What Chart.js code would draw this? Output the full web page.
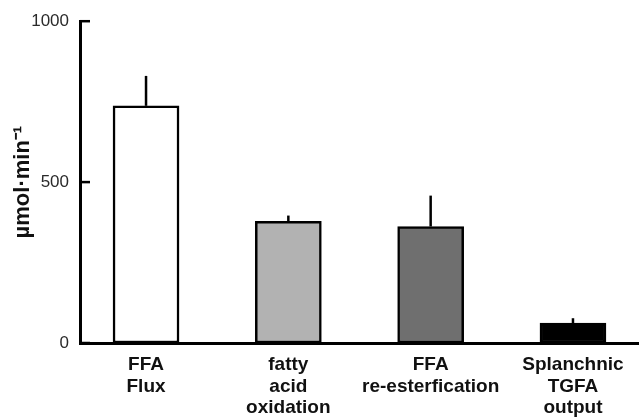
<!DOCTYPE html>
<html>
<head>
<meta charset="utf-8">
<script src="https://cdn.jsdelivr.net/npm/chart.js@4/dist/chart.umd.min.js"></script>
<style>
  html, body { margin: 0; padding: 0; background: #fff; }
  #wrap { width: 639px; height: 419px; }
</style>
</head>
<body>
<div id="wrap"><canvas id="fluxChart" width="639" height="419"></canvas></div>
<script>
// data
const categories = [
    ["FFA", "Flux"],
    ["fatty", "acid", "oxidation"],
    ["FFA", "re-esterfication"],
    ["Splanchnic", "TGFA", "output"]
];
const fluxValues = [737, 378, 362, 62];
const fluxErrors = [93, 18, 96, 15];
const yTicks = [0, 500, 1000];

const barFills = ["#ffffff", "#b2b2b2", "#6f6f6f", "#000000"];
const FONT = "'Liberation Sans', Arial, Helvetica, sans-serif";

// error bars (upper only) + inward y ticks
const extrasPlugin = {
    id: "extras",
    afterDatasetsDraw(chart) {
        const ctx = chart.ctx;
        const xs = chart.scales.x, ys = chart.scales.y;
        ctx.save();
        ctx.strokeStyle = "#000";
        ctx.lineWidth = 2.5;
        ctx.lineCap = "butt";
        fluxValues.forEach((v, i) => {
            const x = xs.getPixelForValue(i);
            ctx.beginPath();
            ctx.moveTo(x, ys.getPixelForValue(v));
            ctx.lineTo(x, ys.getPixelForValue(v + fluxErrors[i]));
            ctx.stroke();
        });
        yTicks.forEach(t => {
            const y = ys.getPixelForValue(t);
            ctx.beginPath();
            ctx.moveTo(chart.chartArea.left, y);
            ctx.lineTo(chart.chartArea.left + 10, y);
            ctx.stroke();
        });
        ctx.restore();
    }
};

const chart = new Chart(document.getElementById("fluxChart"), {
    type: "bar",
    data: {
        datasets: [{
            data: fluxValues.map((v, i) => ({ x: i, y: v })),
            backgroundColor: barFills,
            borderColor: "#000",
            borderWidth: 2.5,
            borderSkipped: false,
            barThickness: 66
        }]
    },
    options: {
        responsive: false,
        devicePixelRatio: 1,
        animation: false,
        layout: { padding: { top: 20, right: 0, left: 0, bottom: 0 } },
        plugins: { legend: { display: false }, tooltip: { enabled: false } },
        scales: {
            x: {
                type: "linear",
                offset: false,
                min: -0.464,
                max: 3.464,
                afterBuildTicks: s => { s.ticks = categories.map((c, i) => ({ value: i })); },
                afterFit: s => { s.height = 76; },
                grid: { display: false, drawTicks: false, offset: false },
                border: { display: true, color: "#000", width: 3 },
                ticks: {
                    includeBounds: false,
                    autoSkip: false,
                    maxRotation: 0,
                    padding: 11,
                    color: "#111",
                    font: { family: FONT, size: 19, weight: "bold", lineHeight: 1.14 },
                    callback: v => categories[v]
                }
            },
            y: {
                min: 0,
                max: 1000,
                afterBuildTicks: s => { s.ticks = yTicks.map(v => ({ value: v })); },
                afterFit: s => { s.width = 80; },
                grid: { display: false, drawTicks: false },
                border: { display: true, color: "#000", width: 3 },
                ticks: {
                    padding: 11,
                    color: "#2a2a2a",
                    font: { family: FONT, size: 17 },
                    callback: v => String(v)
                },
                title: {
                    display: true,
                    text: "µmol·min⁻¹",
                    color: "#111",
                    padding: { top: 10, bottom: 0 },
                    font: { family: FONT, size: 22, weight: "bold" }
                }
            }
        }
    },
    plugins: [extrasPlugin]
});
</script>
</body>
</html>
